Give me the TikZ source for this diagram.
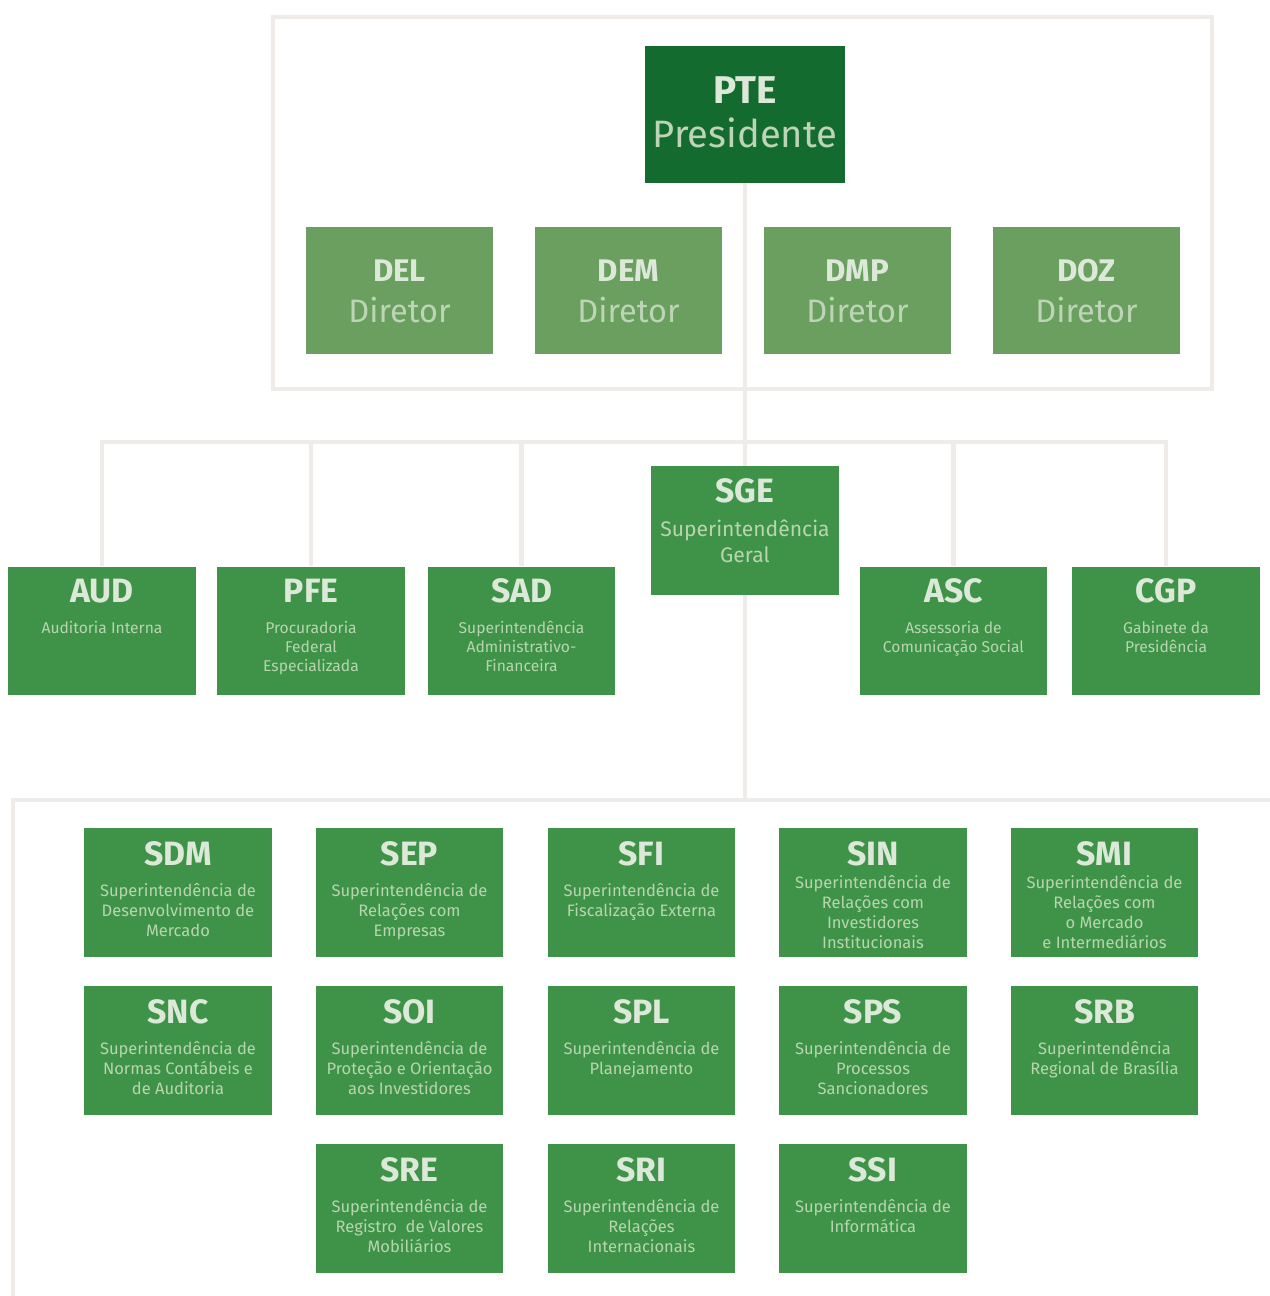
\documentclass[tikz,border=0pt]{standalone}
\usepackage{fontspec}
\setmainfont{Fira Sans}
\usetikzlibrary{calc,backgrounds}
\definecolor{ptegreen}{HTML}{146B30}
\definecolor{dirgreen}{HTML}{6A9F60}
\definecolor{boxgreen}{HTML}{3F9348}
\definecolor{ttlcol}{HTML}{DCE8D8}
\definecolor{subcol}{HTML}{B8D5AF}
\definecolor{dsubcol}{HTML}{BDD4B6}
\definecolor{linecol}{HTML}{EFEBE8}
% #3 = offset of the LAST line's baseline below the box top
\newcommand\orgsub[4]{\node[#1] at ($(#2.north)+(0,#3)$) {#4};}
\begin{document}
\begin{tikzpicture}[x=0.02cm,y=-0.02cm,
  gbox/.style={rectangle,inner sep=0,minimum width=3.76cm,minimum height=2.58cm,fill=boxgreen},
  dbox/.style={rectangle,inner sep=0,minimum width=3.74cm,minimum height=2.54cm,fill=dirgreen},
  pbox/.style={rectangle,inner sep=0,minimum width=4cm,minimum height=2.74cm,fill=ptegreen},
  ttl/.style={text=ttlcol,inner sep=0,font=\bfseries\fontsize{19.2}{23}\selectfont},
  bigttl/.style={text=ttlcol,inner sep=0,font=\bfseries\fontsize{22}{26}\selectfont},
  bigsub/.style={text=dsubcol,inner sep=0,font=\fontsize{21.7}{26}\selectfont},
  dttl/.style={text=ttlcol,inner sep=0,font=\bfseries\fontsize{17.8}{21}\selectfont},
  dsub/.style={text=dsubcol,inner sep=0,font=\fontsize{18.5}{22}\selectfont},
  sub/.style={text=subcol,align=center,inner sep=0,anchor=base,font=\fontsize{8.9}{10.77}\selectfont},
  gsub/.style={sub,font=\fontsize{9.4}{11.34}\selectfont},
  sgesub/.style={sub,font=\fontsize{12}{14.74}\selectfont},
  conn/.style={draw=linecol,line width=2.8pt},
  frame/.style={draw=linecol,line width=2.4pt}]
\useasboundingbox (0,0) rectangle (1270,1296);

% top
\node[pbox] (pte) at (745,114.5) {};
\node[bigttl] at ($(pte.north)+(0,44)$) {PTE};
\node[bigsub] at ($(pte.north)+(0,87)$) {Presidente};

\foreach \n/\t/\x in {del/DEL/399.5, dem/DEM/628.5, dmp/DMP/857.5, doz/DOZ/1086.5}{
  \node[dbox] (\n) at (\x,290.5) {};
  \node[dttl] at ($(\n.north)+(0,44)$) {\t};
  \node[dsub] at ($(\n.north)+(0,83)$) {Diretor};
}

% SGE
\node[gbox] (sge) at (745,530.5) {};
\node[ttl] at ($(sge.north)+(0,25)$) {SGE};
\orgsub{sgesub}{sge}{97}{Superintendência\\Geral}

% second row
\node[gbox] (aud) at (102,631) {};
\node[gbox] (pfe) at (311,631) {};
\node[gbox] (sad) at (521.5,631) {};
\node[gbox] (asc) at (953.5,631) {};
\node[gbox] (cgp) at (1166,631) {};
\node[ttl] at ($(aud.north)+(0,25)$) {AUD};
\node[ttl] at ($(pfe.north)+(0,25)$) {PFE};
\node[ttl] at ($(sad.north)+(0,25)$) {SAD};
\node[ttl] at ($(asc.north)+(0,25)$) {ASC};
\node[ttl] at ($(cgp.north)+(0,25)$) {CGP};
\orgsub{sub}{aud}{67}{Auditoria Interna}
\orgsub{sub}{pfe}{105}{Procuradoria\\Federal\\Especializada}
\orgsub{sub}{sad}{105}{Superintendência\\Administrativo-\\Financeira}
\orgsub{sub}{asc}{86}{Assessoria de\\Comunicação Social}
\orgsub{sub}{cgp}{86}{Gabinete da\\Presidência}

% grid
\node[gbox] (sdm) at (178,892.5) {};
\node[gbox] (sep) at (409.5,892.5) {};
\node[gbox] (sfi) at (641.5,892.5) {};
\node[gbox] (sin) at (873,892.5) {};
\node[gbox] (smi) at (1104.5,892.5) {};
\node[gbox] (snc) at (178,1050.5) {};
\node[gbox] (soi) at (409.5,1050.5) {};
\node[gbox] (spl) at (641.5,1050.5) {};
\node[gbox] (sps) at (873,1050.5) {};
\node[gbox] (srb) at (1104.5,1050.5) {};
\node[gbox] (sre) at (409.5,1208.5) {};
\node[gbox] (sri) at (641.5,1208.5) {};
\node[gbox] (ssi) at (873,1208.5) {};
\foreach \n/\t in {sdm/SDM,sep/SEP,sfi/SFI,sin/SIN,smi/SMI,snc/SNC,soi/SOI,spl/SPL,sps/SPS,srb/SRB,sre/SRE,sri/SRI,ssi/SSI}{
  \node[ttl] at ($(\n.north)+(0,26)$) {\t};
}
\orgsub{gsub}{sdm}{109}{Superintendência de\\Desenvolvimento de\\Mercado}
\orgsub{gsub}{sep}{109}{Superintendência de\\Relações com\\Empresas}
\orgsub{gsub}{sfi}{89}{Superintendência de\\Fiscalização Externa}
\orgsub{gsub}{sin}{121}{Superintendência de\\Relações com\\Investidores\\Institucionais}
\orgsub{gsub}{smi}{121}{Superintendência de\\Relações com\\o Mercado\\e Intermediários}
\orgsub{gsub}{snc}{109}{Superintendência de\\Normas Contábeis e\\de Auditoria}
\orgsub{gsub}{soi}{109}{Superintendência de\\Proteção e Orientação\\aos Investidores}
\orgsub{gsub}{spl}{89}{Superintendência de\\Planejamento}
\orgsub{gsub}{sps}{109}{Superintendência de\\Processos\\Sancionadores}
\orgsub{gsub}{srb}{89}{Superintendência\\Regional de Brasília}
\orgsub{gsub}{sre}{109}{Superintendência de\\Registro\ \ de Valores\\Mobiliários}
\orgsub{gsub}{sri}{109}{Superintendência de\\Relações\\Internacionais}
\orgsub{gsub}{ssi}{89}{Superintendência de\\Informática}

% connectors
\coordinate (hbar) at (0,442);
\coordinate (bR) at (1270,800);
\coordinate (bL) at (13,800);
\coordinate (bB) at (13,1296);
\begin{pgfonlayer}{background}
  \draw[frame] (273,17) rectangle (1212,389);
  \draw[conn] (pte.south) -- (sge.north);
  \draw[conn,line join=miter] (aud.north) -- (aud.north |- hbar) -- (cgp.north |- hbar) -- (cgp.north);
  \draw[conn] (pfe.north) -- (pfe.north |- hbar);
  \draw[conn] (sad.north) -- (sad.north |- hbar);
  \draw[conn] (asc.north) -- (asc.north |- hbar);
  \draw[conn] (sge.south) -- (sge.south |- bR);
  \draw[conn,line join=miter] (bR) -- (bL) -- (bB);
\end{pgfonlayer}
\end{tikzpicture}
\end{document}
